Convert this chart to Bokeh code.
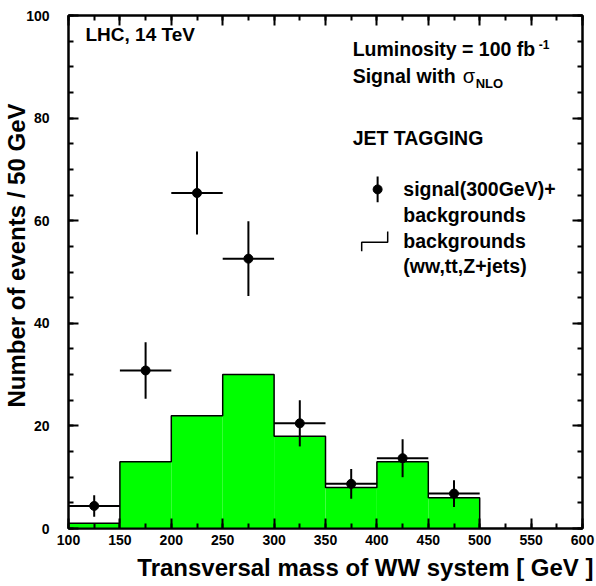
from bokeh.plotting import figure
from bokeh.models import (Range1d, LinearAxis, SingleIntervalTicker, Label, Title,
                          CustomJSTickFormatter)
from bokeh.embed import file_html
from bokeh.resources import INLINE

# ---- data ----
bin_lo = [100, 150, 200, 250, 300, 350, 400, 450]
bin_hi = [150, 200, 250, 300, 350, 400, 450, 500]
background = [1, 13, 22, 30, 18, 8, 13, 6]
signal_plus_bkg = [4.4, 30.8, 65.4, 52.6, 20.5, 8.7, 13.7, 6.8]
signal_err = [2.1, 5.5, 8.1, 7.3, 4.5, 2.9, 3.7, 2.6]
x_ticks_step = 50
y_ticks_step = 20

FONT = "Liberation Sans"

p = figure(width=596, height=586, output_backend="svg", toolbar_location=None,
           x_range=Range1d(100, 600), y_range=Range1d(0, 100),
           min_border_left=68, min_border_right=14, min_border_top=15, min_border_bottom=58,
           x_axis_location=None, y_axis_location=None)
p.grid.visible = False
p.outline_line_color = "black"
p.outline_line_width = 2
p.background_fill_color = "white"
p.border_fill_color = "white"


def style_axis(ax, labels=True, standoff=6):
    ax.axis_line_width = 2
    ax.axis_line_color = "black"
    ax.major_tick_in = 10
    ax.major_tick_out = 0
    ax.minor_tick_in = 5
    ax.minor_tick_out = 0
    ax.major_tick_line_width = 2
    ax.minor_tick_line_width = 2
    ax.major_label_text_font = FONT
    ax.major_label_text_font_style = "bold"
    ax.major_label_text_color = "black"
    ax.major_label_standoff = standoff
    ax.major_label_text_font_size = "14px"
    if not labels:
        ax.formatter = CustomJSTickFormatter(code="return ''")
        ax.major_label_text_font_size = "1px"
        ax.major_label_standoff = 0


xb = LinearAxis(ticker=SingleIntervalTicker(interval=x_ticks_step, num_minor_ticks=2))
style_axis(xb, True, 6)
p.add_layout(xb, "below")
xt = LinearAxis(ticker=SingleIntervalTicker(interval=x_ticks_step, num_minor_ticks=2))
style_axis(xt, False)
p.add_layout(xt, "above")
yl = LinearAxis(ticker=SingleIntervalTicker(interval=y_ticks_step, num_minor_ticks=4))
style_axis(yl, True, 19)
p.add_layout(yl, "left")
yr = LinearAxis(ticker=SingleIntervalTicker(interval=y_ticks_step, num_minor_ticks=4))
style_axis(yr, False)
p.add_layout(yr, "right")

# axis titles
p.add_layout(Title(text="Transversal mass of WW system [ GeV ]", align="right",
                   text_font=FONT, text_font_style="bold", text_font_size="24px",
                   text_color="black", standoff=8, offset=-11), "below")
p.add_layout(Title(text="Number of events / 50 GeV", align="right",
                   text_font=FONT, text_font_style="bold", text_font_size="24px",
                   text_color="black", standoff=-12, offset=88), "left")

# background histogram (filled, step outline)
p.quad(left=bin_lo, right=bin_hi, bottom=0, top=background,
       fill_color="#00ff00", line_color=None)
sx, sy = [bin_lo[0]], [0]
for lo, hi, v in zip(bin_lo, bin_hi, background):
    sx += [lo, hi]
    sy += [v, v]
sx.append(bin_hi[-1])
sy.append(0)
p.line(sx, sy, line_color="black", line_width=1.5)

# signal + background points with error bars
centers = [(a + b) / 2 for a, b in zip(bin_lo, bin_hi)]
lo_err = [v - e for v, e in zip(signal_plus_bkg, signal_err)]
hi_err = [v + e for v, e in zip(signal_plus_bkg, signal_err)]
p.segment(x0=bin_lo, x1=bin_hi, y0=signal_plus_bkg, y1=signal_plus_bkg,
          line_color="black", line_width=2)
p.segment(x0=centers, x1=centers, y0=lo_err, y1=hi_err,
          line_color="black", line_width=2)
p.scatter(centers, signal_plus_bkg, size=9, marker="circle",
          fill_color="black", line_color="black")


def lab(x, y, text, size, **kw):
    opts = dict(text_font=FONT, text_font_style="bold", text_color="black",
                text_font_size=size, text_align="left", text_baseline="middle")
    opts.update(kw)
    p.add_layout(Label(x=x, y=y, text=text, **opts))


# texts
lab(116.5, 96.3, "LHC, 14 TeV", "19px")
lab(376.4, 93.4, "Luminosity = 100 fb", "19.5px")
lab(376.4, 93.4, "-1", "12px", x_offset=186, y_offset=5)
lab(376.4, 88.3, "Signal with ", "19.5px")
lab(376.4, 88.3, "σ", "20px", x_offset=110, text_font_style="normal")
lab(376.4, 88.3, "NLO", "13px", x_offset=123, y_offset=-8)
lab(376.4, 76.1, "JET TAGGING", "19.5px")

# legend
lab(425.7, 66.14, "signal(300GeV)+", "19.5px")
lab(425.7, 61.13, "backgrounds", "19.5px")
lab(425.7, 56.12, "backgrounds", "19.5px")
lab(425.7, 51.11, "(ww,tt,Z+jets)", "19.5px")
p.segment(x0=[400.7], x1=[400.7], y0=[63.6], y1=[68.6], line_color="black", line_width=2)
p.scatter([400.7], [66.1], size=9, marker="circle", fill_color="black", line_color="black")
p.line([385.2, 385.2, 410.5, 410.5], [54.05, 55.8, 55.8, 57.9], line_color="black", line_width=1.5)

open("out.html", "w").write(file_html(p, INLINE))
